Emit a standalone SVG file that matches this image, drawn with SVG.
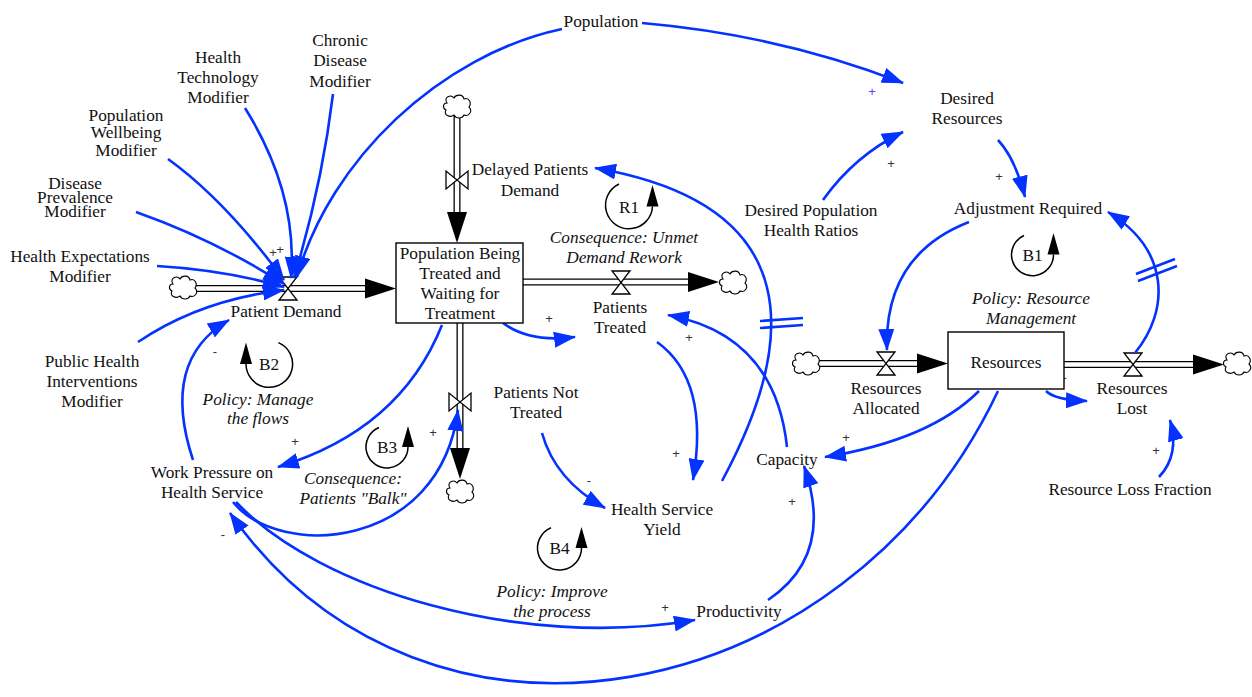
<svg xmlns="http://www.w3.org/2000/svg" width="1252" height="697" viewBox="0 0 1252 697">
<style>
.t{font-family:"Liberation Serif","Times New Roman","DejaVu Serif",serif;font-size:17.3px;fill:#111;text-anchor:middle}
.i{font-style:italic}
.p{font-family:"Liberation Sans","DejaVu Sans",sans-serif;font-size:13px;fill:#333;text-anchor:middle}
.pb{fill:#4a4aff}
.link{fill:none;stroke:#0433ff;stroke-width:2.6;marker-end:url(#ah)}
.hash{stroke:#0433ff;stroke-width:2.6;fill:none}
.pipeo{stroke:#000;stroke-width:7;fill:none}
.pipei{stroke:#fff;stroke-width:4.4;fill:none}
.valve{fill:#fff;stroke:#000;stroke-width:1.3}
.cloud{fill:#fff;stroke:#000;stroke-width:1.1}
.fa{fill:#000}
.box{fill:#fff;stroke:#000;stroke-width:1.4}
.loop{fill:none;stroke:#000;stroke-width:1.5}
</style>
<defs>
<marker id="ah" markerUnits="userSpaceOnUse" markerWidth="22" markerHeight="16" refX="21" refY="8" orient="auto">
<path d="M0,0 L22,8 L0,16 Z" fill="#0433ff"/>
</marker>
<path id="cl" d="M-10,-4 C-14,-10 -6,-13 -3,-9 C-1,-13 6,-13 7,-8 C12,-10 15,-4 12,0 C16,4 12,10 7,8 C5,12 -1,12 -3,8 C-7,11 -14,8 -11,3 C-15,1 -14,-4 -10,-4 Z"/>
</defs>
<rect width="1252" height="697" fill="#fff"/>

<!-- Flows (pipes) -->
<g id="flows">
<g id="flow-patient-demand">
<path class="pipeo" d="M196,288.5 H367"/><path class="pipei" d="M195,288.5 H367"/>
<use href="#cl" class="cloud" x="183" y="288"/>
<polygon class="fa" points="396,288.5 365,278.5 365,298.5"/>
<path class="valve" d="M279,277 L297,277 L279,300 L297,300 Z"/>
</g>
<g id="flow-delayed">
<path class="pipeo" d="M457,115 V214"/><path class="pipei" d="M457,114 V214"/>
<use href="#cl" class="cloud" x="457" y="107"/>
<polygon class="fa" points="457,243 447,212 467,212"/>
<path class="valve" d="M446,171 L446,189 L468,171 L468,189 Z"/>
</g>
<g id="flow-patients-treated">
<path class="pipeo" d="M523,282 H690"/><path class="pipei" d="M522,282 H690"/>
<polygon class="fa" points="719,282 688,272 688,292"/>
<use href="#cl" class="cloud" x="733" y="283"/>
<path class="valve" d="M612,271 L630,271 L612,294 L630,294 Z"/>
</g>
<g id="flow-not-treated">
<path class="pipeo" d="M460,323 V450"/><path class="pipei" d="M460,322 V450"/>
<polygon class="fa" points="460,479 450,448 470,448"/>
<use href="#cl" class="cloud" x="460" y="492"/>
<path class="valve" d="M449,393 L449,411 L471,393 L471,411 Z"/>
</g>
<g id="flow-resources-allocated">
<path class="pipeo" d="M818,363.5 H919"/><path class="pipei" d="M817,363.5 H919"/>
<use href="#cl" class="cloud" x="806" y="364"/>
<polygon class="fa" points="948,363.5 917,353.5 917,373.5"/>
<path class="valve" d="M877,352 L895,352 L877,375 L895,375 Z"/>
</g>
<g id="flow-resources-lost">
<path class="pipeo" d="M1064,364.5 H1195"/><path class="pipei" d="M1063,364.5 H1195"/>
<polygon class="fa" points="1224,364.5 1193,354.5 1193,374.5"/>
<use href="#cl" class="cloud" x="1237" y="364"/>
<path class="valve" d="M1124,353 L1142,353 L1124,376 L1142,376 Z"/>
</g>
</g>

<!-- Connectors -->
<g id="connectors">
<path class="link" d="M245,108 Q298,193 291,278"/>
<path class="link" d="M333,94 Q322,185 294,278"/>
<path class="link" d="M562,29 C440,55 330,160 297,277"/>
<path class="link" d="M168,159 Q225,200 284,280"/>
<path class="link" d="M136,212 Q215,240 284,284"/>
<path class="link" d="M157,266 Q225,270 284,287"/>
<path class="link" d="M138,342 Q200,300 284,290"/>
<path class="link" d="M193,460 Q160,360 229,320"/>
<path class="link" d="M442,325 Q400,430 278,467"/>
<path class="link" d="M233,502 C280,560 440,550 458,410"/>
<path class="link" d="M236,502 C320,590 520,650 695,620"/>
<path class="link" d="M998,391 C847,710 426,793 230,513"/>
<path class="link" d="M979,391 Q930,440 825,457"/>
<path class="link" d="M1046,391 Q1055,400 1087,401"/>
<path class="link" d="M1159,477 Q1180,455 1170,420"/>
<path class="link" d="M1135,353 C1170,310 1170,250 1108,212"/>
<path class="link" d="M969,222 C910,245 885,290 887,350"/>
<path class="link" d="M998,140 Q1015,158 1025,197"/>
<path class="link" d="M823,200 Q855,155 903,132"/>
<path class="link" d="M642,23 Q780,35 903,83"/>
<path class="link" d="M503,323 Q530,343 575,337"/>
<path class="link" d="M657,342 Q710,380 693,480"/>
<path class="link" d="M787,447 Q775,335 668,315"/>
<path class="link" d="M722,481 C796,344 810,205 595,168"/>
<path class="link" d="M542,433 Q555,480 605,508"/>
<path class="link" d="M768,600 Q835,555 804,466"/>
<path class="hash" d="M760,321 L803,318 M760,328 L803,325"/>
<path class="hash" d="M1136,274 L1175,259 M1138,281 L1177,266"/>
</g>

<!-- Polarity signs -->
<g id="polarities">
<text class="p" x="273" y="257">+</text>
<text class="p" x="280" y="254">+</text>
<text class="p" x="258" y="315">-</text>
<text class="p" x="215" y="356">-</text>
<text class="p" x="295" y="446">+</text>
<text class="p" x="433" y="437">+</text>
<text class="p" x="223" y="539">-</text>
<text class="p" x="549" y="323">+</text>
<text class="p" x="689" y="342">+</text>
<text class="p" x="589" y="485">-</text>
<text class="p" x="676" y="458">+</text>
<text class="p" x="792" y="506">+</text>
<text class="p" x="665" y="612">+</text>
<text class="p pb" x="872" y="96">+</text>
<text class="p" x="891" y="168">+</text>
<text class="p" x="999" y="181">+</text>
<text class="p" x="1063" y="383">+</text>
<text class="p" x="846" y="442">+</text>
<text class="p" x="1156" y="455">+</text>
</g>

<!-- Stocks -->
<g id="stock-population-being-treated">
<rect class="box" x="396" y="243" width="127" height="80"/>
<text class="t"><tspan x="460" y="259">Population Being</tspan><tspan x="460" y="279">Treated and</tspan><tspan x="460" y="299">Waiting for</tspan><tspan x="460" y="319">Treatment</tspan></text>
</g>
<g id="stock-resources">
<rect class="box" x="948" y="332" width="116" height="57"/>
<text class="t" x="1006" y="368">Resources</text>
</g>

<!-- Variables -->
<g id="population"><text class="t" x="601" y="27">Population</text></g>
<g id="chronic-disease-modifier"><text class="t"><tspan x="340" y="46">Chronic</tspan><tspan x="340" y="66">Disease</tspan><tspan x="340" y="87">Modifier</tspan></text></g>
<g id="health-technology-modifier"><text class="t"><tspan x="218" y="63">Health</tspan><tspan x="218" y="83">Technology</tspan><tspan x="218" y="103">Modifier</tspan></text></g>
<g id="population-wellbeing-modifier"><text class="t"><tspan x="126" y="121">Population</tspan><tspan x="126" y="138">Wellbeing</tspan><tspan x="126" y="156">Modifier</tspan></text></g>
<g id="disease-prevalence-modifier"><text class="t"><tspan x="75" y="189">Disease</tspan><tspan x="75" y="203">Prevalence</tspan><tspan x="75" y="217">Modifier</tspan></text></g>
<g id="health-expectations-modifier"><text class="t"><tspan x="80" y="262">Health Expectations</tspan><tspan x="80" y="282">Modifier</tspan></text></g>
<g id="patient-demand"><text class="t" x="286" y="317">Patient Demand</text></g>
<g id="public-health-interventions-modifier"><text class="t"><tspan x="92" y="367">Public Health</tspan><tspan x="92" y="387">Interventions</tspan><tspan x="92" y="407">Modifier</tspan></text></g>
<g id="work-pressure"><text class="t"><tspan x="212" y="478">Work Pressure on</tspan><tspan x="212" y="498">Health Service</tspan></text></g>
<g id="delayed-patients-demand"><text class="t"><tspan x="530" y="175">Delayed Patients</tspan><tspan x="530" y="196">Demand</tspan></text></g>
<g id="patients-treated"><text class="t"><tspan x="620" y="313">Patients</tspan><tspan x="620" y="333">Treated</tspan></text></g>
<g id="patients-not-treated"><text class="t"><tspan x="536" y="398">Patients Not</tspan><tspan x="536" y="418">Treated</tspan></text></g>
<g id="health-service-yield"><text class="t"><tspan x="662" y="515">Health Service</tspan><tspan x="662" y="535">Yield</tspan></text></g>
<g id="capacity"><text class="t" x="787" y="465">Capacity</text></g>
<g id="productivity"><text class="t" x="739" y="617">Productivity</text></g>
<g id="desired-resources"><text class="t"><tspan x="967" y="104">Desired</tspan><tspan x="967" y="124">Resources</tspan></text></g>
<g id="desired-population-health-ratios"><text class="t"><tspan x="811" y="216">Desired Population</tspan><tspan x="811" y="236">Health Ratios</tspan></text></g>
<g id="adjustment-required"><text class="t" x="1028" y="214">Adjustment Required</text></g>
<g id="resources-allocated"><text class="t"><tspan x="886" y="394">Resources</tspan><tspan x="886" y="414">Allocated</tspan></text></g>
<g id="resources-lost"><text class="t"><tspan x="1132" y="394">Resources</tspan><tspan x="1132" y="414">Lost</tspan></text></g>
<g id="resource-loss-fraction"><text class="t" x="1130" y="495">Resource Loss Fraction</text></g>

<!-- Loop annotations -->
<g id="loop-r1">
<path class="loop" d="M619,184 A23.5,23.5 0 1,0 652.5,206.5"/>
<polygon class="fa" points="652.5,185 646.5,206.5 658.5,206.5"/>
<text class="t" x="629" y="212.5">R1</text>
<text class="t i"><tspan x="624" y="243">Consequence: Unmet</tspan><tspan x="624" y="263">Demand Rework</tspan></text>
</g>
<g id="loop-b1">
<path class="loop" d="M1024,235.5 A21,21 0 1,0 1053.5,254.5"/>
<polygon class="fa" points="1053.5,233 1047.5,254.5 1059.5,254.5"/>
<text class="t" x="1032.5" y="260.5">B1</text>
<text class="t i"><tspan x="1031" y="304">Policy: Resource</tspan><tspan x="1031" y="324">Management</tspan></text>
</g>
<g id="loop-b2">
<path class="loop" d="M278.4,342.6 A23.3,23.3 0 1,1 246,364"/>
<polygon class="fa" points="246,342.5 240,364 252,364"/>
<text class="t" x="269" y="370">B2</text>
<text class="t i"><tspan x="258" y="405">Policy: Manage</tspan><tspan x="258" y="424">the flows</tspan></text>
</g>
<g id="loop-b3">
<path class="loop" d="M379,427.5 A21,21 0 1,0 408,447"/>
<polygon class="fa" points="408,426 402,447 414,447"/>
<text class="t" x="387" y="453">B3</text>
<text class="t i"><tspan x="353" y="484">Consequence:</tspan><tspan x="353" y="504">Patients "Balk"</tspan></text>
</g>
<g id="loop-b4">
<path class="loop" d="M551,527.7 A22,22 0 1,0 581.5,548"/>
<polygon class="fa" points="581.5,527 575.5,548 587.5,548"/>
<text class="t" x="559.5" y="554">B4</text>
<text class="t i"><tspan x="552" y="597">Policy: Improve</tspan><tspan x="552" y="617">the process</tspan></text>
</g>
</svg>
